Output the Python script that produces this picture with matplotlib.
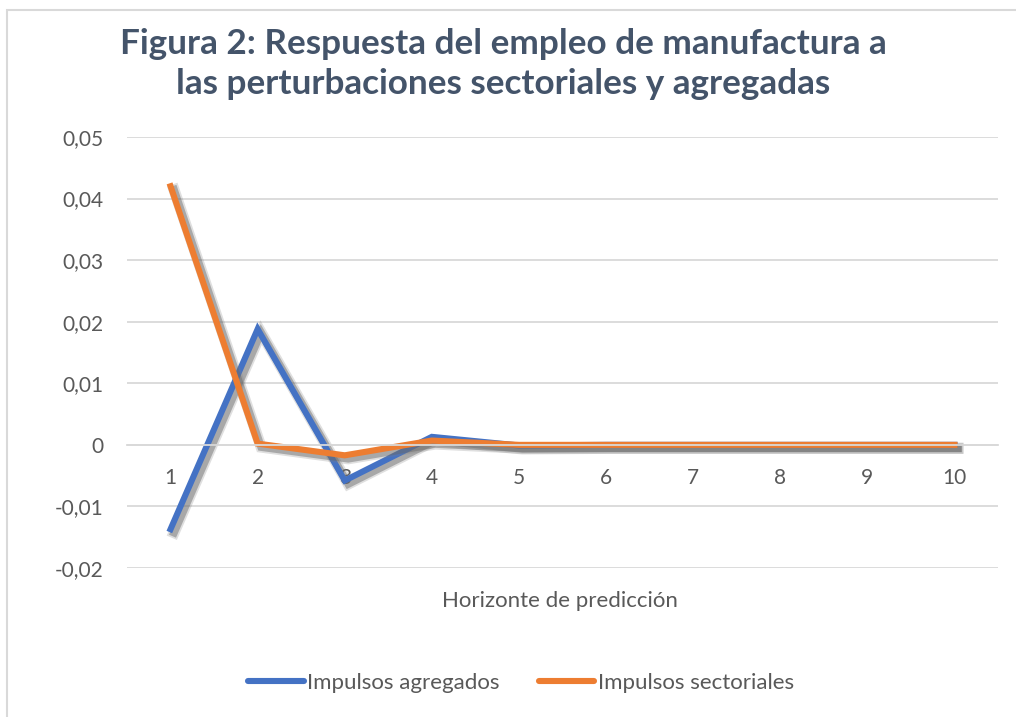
import matplotlib
matplotlib.use("Agg")
import matplotlib.pyplot as plt
import matplotlib.patheffects as pe
from matplotlib.patches import Rectangle
from matplotlib.ticker import FuncFormatter, MultipleLocator
from matplotlib.lines import Line2D

horizons = [1, 2, 3, 4, 5, 6, 7, 8, 9, 10]
agregados = [-0.0137, 0.0188, -0.0058, 0.0013, -0.0001, 0.0, 0.0, 0.0, 0.0, 0.0]
sectoriales = [0.0420, 0.0002, -0.0017, 0.0007, 0.0, 0.0, 0.0, 0.0, 0.0, 0.0]
series_names = ["Impulsos agregados", "Impulsos sectoriales"]
colors = ["#4472C4", "#ED7D31"]

plt.rcParams['font.family'] = ['Lato', 'DejaVu Sans']

W, H = 1016, 717
fig = plt.figure(figsize=(W / 100, H / 100), dpi=100)
fig.patches.append(Rectangle((7 / W, -0.1), 1.2, (H - 10) / H + 0.1, transform=fig.transFigure,
                             fill=False, edgecolor="#D9D9D9", linewidth=1.5))

ax = fig.add_axes([127 / W, 1 - 568 / H, (998 - 127) / W, (568 - 137) / H])
ax.set_xlim(0.5, 10.5)
ax.set_ylim(-0.02, 0.05)
ax.yaxis.set_major_locator(MultipleLocator(0.01))
ax.yaxis.set_major_formatter(FuncFormatter(lambda v, p: "0" if abs(v) < 1e-9 else f"{v:.2f}".replace(".", ",")))
ax.set_xticks(horizons)
ax.set_xticklabels([str(h) for h in horizons])
ax.grid(axis='y', color="#D9D9D9", linewidth=1.3)
ax.set_axisbelow(True)
for s in ["top", "right", "left"]:
    ax.spines[s].set_visible(False)
ax.spines["bottom"].set_position(("data", 0))
ax.spines["bottom"].set_color("#D9D9D9")
ax.spines["bottom"].set_linewidth(1.3)
ax.tick_params(axis='both', length=0, labelsize=15, labelcolor="#595959")
ax.tick_params(axis='x', pad=17)
ax.tick_params(axis='y', pad=17)

shadow = [pe.SimpleLineShadow(offset=(2.5, -2.5), shadow_color="#808080", alpha=0.25, linewidth=8.0),
          pe.SimpleLineShadow(offset=(2.5, -2.5), shadow_color="#666666", alpha=0.45, linewidth=5.5),
          pe.Normal()]
for vals, c, n in zip([agregados, sectoriales], colors, series_names):
    ax.plot(horizons, vals, color=c, linewidth=4.4, solid_joinstyle='miter', path_effects=shadow, label=n,
            clip_on=False)

fig.text(560 / W, 1 - 601 / H, "Horizonte de predicción", ha='center', va='center', fontsize=16, color="#595959")

fig.text(503 / W, 1 - 64 / H, "Figura 2: Respuesta del empleo de manufactura a\nlas perturbaciones sectoriales y agregadas",
         ha='center', va='center', fontsize=25.3, fontweight='bold', color="#44546A", linespacing=1.32)

handles = [Line2D([], [], color=c, linewidth=4.4, solid_capstyle='round') for c in colors]
fig.legend(handles, series_names, loc='center', bbox_to_anchor=(521 / W, 1 - 683 / H), ncol=2, frameon=False,
           fontsize=16, labelcolor="#595959", handlelength=2.5, handletextpad=0.15, columnspacing=1.75)

fig.savefig("out.png", dpi=100)
